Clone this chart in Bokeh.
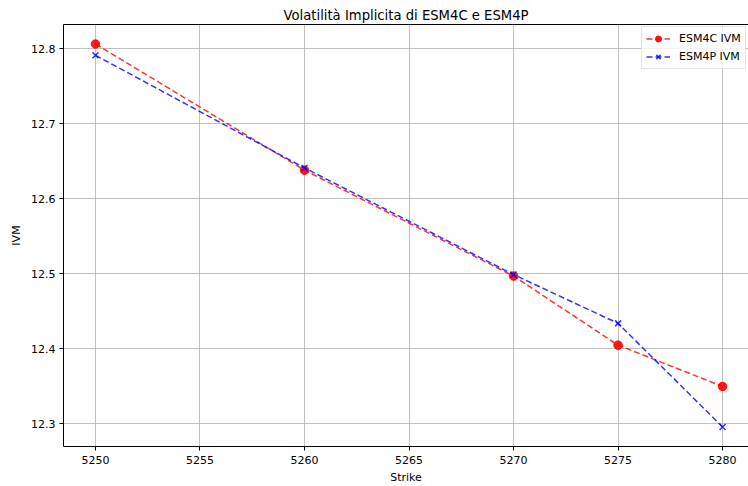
from bokeh.plotting import figure
from bokeh.models import FixedTicker, LinearAxis, Range1d, Legend, LegendItem
from bokeh.embed import file_html
from bokeh.resources import INLINE

# Data
strikes = [5250, 5260, 5270, 5275, 5280]
esm4c_ivm = [12.806, 12.638, 12.497, 12.405, 12.350]
esm4p_ivm = [12.791, 12.641, 12.499, 12.434, 12.296]
x_ticks = [5250, 5255, 5260, 5265, 5270, 5275, 5280]
y_ticks = [12.3, 12.4, 12.5, 12.6, 12.7, 12.8]

FONT = "DejaVu Sans"

p = figure(width=748, height=486, output_backend="svg", toolbar_location=None,
           x_range=Range1d(5248.47, 5281.24), y_range=Range1d(12.270, 12.832),
           min_border_left=63, min_border_right=0, min_border_top=24, min_border_bottom=39)

p.title.text = "Volatilità Implicita di ESM4C e ESM4P"
p.title.align = "center"
p.title.text_font = FONT
p.title.text_font_style = "normal"
p.title.text_font_size = "13.2px"
p.title.text_color = "black"
p.title.standoff = 4
p.title.offset = 0

p.outline_line_color = None
p.background_fill_color = "white"
p.border_fill_color = "white"

bottom_ax = p.below[0]
left_ax = p.left[0]

for ax, ticks, lab in ((bottom_ax, x_ticks, "Strike"), (left_ax, y_ticks, "IVM")):
    ax.ticker = FixedTicker(ticks=ticks)
    ax.axis_label = lab
    ax.axis_label_text_font = FONT
    ax.axis_label_text_font_style = "normal"
    ax.axis_label_text_font_size = "11px"
    ax.axis_label_text_color = "black"
    ax.major_label_text_font = FONT
    ax.major_label_text_font_size = "11px"
    ax.major_label_text_color = "black"
    ax.axis_line_color = "black"
    ax.axis_line_width = 1
    ax.major_tick_line_color = "black"
    ax.major_tick_out = 4
    ax.major_tick_in = 0
    ax.minor_tick_line_color = None
    ax.major_label_standoff = 4
    ax.axis_label_standoff = 4

left_ax.axis_label_standoff = 5
bottom_ax.axis_label_standoff = 4
bottom_ax.major_label_standoff = 5

# top spine
top = LinearAxis(ticker=FixedTicker(ticks=[]), major_label_text_font_size="0px",
                 major_tick_out=0, major_tick_in=0, minor_tick_out=0, minor_tick_in=0,
                 major_label_standoff=0, axis_line_color="black", axis_line_width=1,
                 minor_tick_line_color=None, major_tick_line_color=None)
p.add_layout(top, "above")

p.xgrid.ticker = FixedTicker(ticks=x_ticks)
p.ygrid.ticker = FixedTicker(ticks=y_ticks)
p.grid.grid_line_color = "#b0b0b0"
p.grid.grid_line_alpha = 0.8
p.grid.grid_line_width = 1

l1 = p.line(strikes, esm4c_ivm, line_color="red", line_alpha=0.8, line_width=1.5, line_dash="6 3")
s1 = p.scatter(strikes, esm4c_ivm, marker="circle", size=8.5, fill_color="red", line_color="red",
               fill_alpha=0.9, line_alpha=0.9)
l2 = p.line(strikes, esm4p_ivm, line_color="blue", line_alpha=0.8, line_width=1.5, line_dash="6 3")
s2 = p.scatter(strikes, esm4p_ivm, marker="x", size=8.5, line_color="blue", line_alpha=0.8, line_width=1.5)

legend = Legend(items=[LegendItem(label="ESM4C IVM", renderers=[l1, s1]),
                       LegendItem(label="ESM4P IVM", renderers=[l2, s2])],
                location=(578, 377))
legend.label_text_font = FONT
legend.label_text_font_size = "11px"
legend.label_text_color = "black"
legend.border_line_color = "#cccccc"
legend.border_line_width = 1
legend.background_fill_alpha = 0.8
legend.glyph_width = 24
legend.glyph_height = 15
legend.label_height = 15
legend.spacing = 3
legend.padding = 4
legend.margin = 0
legend.label_standoff = 9
p.add_layout(legend, "center")

open("out.html", "w").write(file_html(p, INLINE))
